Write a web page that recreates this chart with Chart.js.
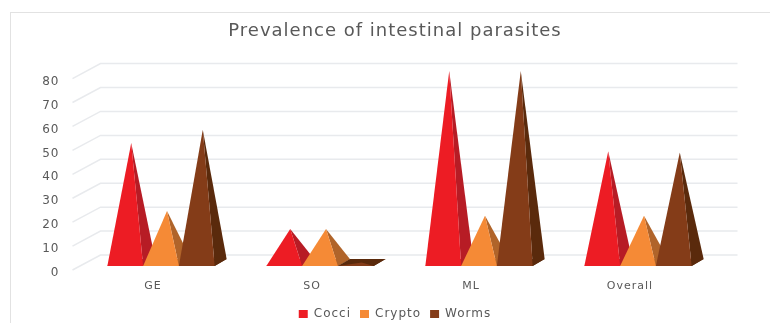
<!DOCTYPE html>
<html>
<head>
<meta charset="utf-8">
<title>Prevalence of intestinal parasites</title>
<script src="https://cdn.jsdelivr.net/npm/chart.js@4/dist/chart.umd.min.js"></script>
<style>
    html, body { margin: 0; padding: 0; background: #fff; }
    #wrap { position: absolute; left: 0; top: 0; width: 770px; height: 323px; overflow: hidden; }
    #frame { position: absolute; left: 10px; top: 12px; width: 760px; height: 311px; border-left: 1px solid #e2e2e2; border-top: 1px solid #e2e2e2; box-sizing: border-box; }
    canvas { position: absolute; left: 0; top: 0; }
</style>
</head>
<body>
<div id="wrap">
    <div id="frame"></div>
    <canvas id="parasiteChart" width="770" height="323"></canvas>
</div>
<script>
const categories = ['GE', 'SO', 'ML', 'Overall'];
const cocci = [50, 14, 80, 46.5];
const crypto_ = [21.5, 14, 19.5, 19.5];
const worms = [55.5, 0, 80, 46];

const frontColors = ['#ed1c24', '#f58a36', '#843c18'];
const sideColors = ['#b71c25', '#b0642a', '#5a2a0c'];

// Floor depth of the 3D box, and the pyramid footprint inside it
const floorDx = 28, floorDy = -15;
const baseDx = 12, baseDy = -7;

function drawGrid(chart) {
    const ctx = chart.ctx;
    const y = chart.scales.y;
    const left = chart.chartArea.left - 1;
    const right = chart.chartArea.right + floorDx;
    ctx.save();
    ctx.strokeStyle = '#e8eaed';
    ctx.lineWidth = 1.5;
    y.ticks.forEach(t => {
        const py = y.getPixelForValue(t.value);
        ctx.beginPath();
        ctx.moveTo(left, py);
        ctx.lineTo(left + floorDx, py + floorDy);
        ctx.lineTo(right, py + floorDy);
        ctx.stroke();
    });
    ctx.restore();
}

function fillPoly(ctx, color, pts) {
    ctx.fillStyle = color;
    ctx.beginPath();
    ctx.moveTo(pts[0][0], pts[0][1]);
    pts.slice(1).forEach(p => ctx.lineTo(p[0], p[1]));
    ctx.closePath();
    ctx.fill();
}

function drawPyramid(ctx, bar, front, side) {
    // footprint sits in the middle of the floor depth
    const offX = (floorDx - baseDx) / 2;
    const offY = (floorDy - baseDy) / 2;
    const xl = bar.x - bar.width / 2 + offX;
    const xr = bar.x + bar.width / 2 + offX;
    const by = bar.base + offY;
    const apex = [bar.x + floorDx / 2, bar.y + floorDy / 2];
    fillPoly(ctx, side, [[xl, by], [xr, by], [xr + baseDx, by + baseDy], [xl + baseDx, by + baseDy]]);
    fillPoly(ctx, side, [[xr, by], [xr + baseDx, by + baseDy], apex]);
    fillPoly(ctx, front, [[xl, by], [xr, by], apex]);
}

const pyramidPlugin = {
    id: 'pyramids',
    // all text on this chart is slightly tracked out
    beforeLayout(chart) { chart.ctx.letterSpacing = '1px'; },
    beforeDraw(chart) { chart.ctx.letterSpacing = '1px'; },
    beforeDatasetsDraw(chart) {
        drawGrid(chart);
        chart.data.datasets.forEach((ds, i) => {
            chart.getDatasetMeta(i).data.forEach(bar => {
                drawPyramid(chart.ctx, bar, frontColors[i], sideColors[i]);
            });
        });
        return false;
    }
};

new Chart(document.getElementById('parasiteChart'), {
    type: 'bar',
    plugins: [pyramidPlugin],
    data: {
        labels: categories,
        datasets: [
            { label: 'Cocci', data: cocci, backgroundColor: frontColors[0] },
            { label: 'Crypto', data: crypto_, backgroundColor: frontColors[1] },
            { label: 'Worms', data: worms, backgroundColor: frontColors[2] }
        ]
    },
    options: {
        responsive: false,
        animation: false,
        layout: { padding: { left: 20, right: 0, top: 0, bottom: -7 } },
        datasets: { bar: { barPercentage: 1, categoryPercentage: 0.675 } },
        plugins: {
            tooltip: { enabled: false },
            title: {
                display: true,
                text: 'Prevalence of intestinal parasites',
                color: '#595959',
                font: { family: 'DejaVu Sans', size: 18, weight: 'normal' },
                padding: { top: 21, bottom: 36 },
                align: 'center'
            },
            legend: {
                position: 'bottom',
                labels: {
                    boxWidth: 9,
                    boxHeight: 8,
                    padding: 9,
                    color: '#595959',
                    font: { family: 'DejaVu Sans', size: 12 }
                }
            }
        },
        scales: {
            x: {
                grid: { display: false, drawTicks: false },
                border: { display: false },
                ticks: { color: '#595959', padding: 10, font: { family: 'DejaVu Sans', size: 11 } },
                afterFit: s => { s.height = 29; }
            },
            y: {
                min: 0,
                max: 80,
                grid: { display: false, drawTicks: false },
                border: { display: false },
                ticks: { stepSize: 10, color: '#595959', padding: 14, labelOffset: 3, font: { family: 'DejaVu Sans', size: 12 } },
                afterFit: s => { s.width = 53.5; }
            },
            // empty axis, reserves the room the floor depth runs into on the right
            rightGap: {
                position: 'right',
                min: 0,
                max: 1,
                grid: { display: false, drawTicks: false },
                border: { display: false },
                ticks: { display: false },
                afterFit: s => { s.width = 60.5; }
            }
        }
    }
});
</script>
</body>
</html>
